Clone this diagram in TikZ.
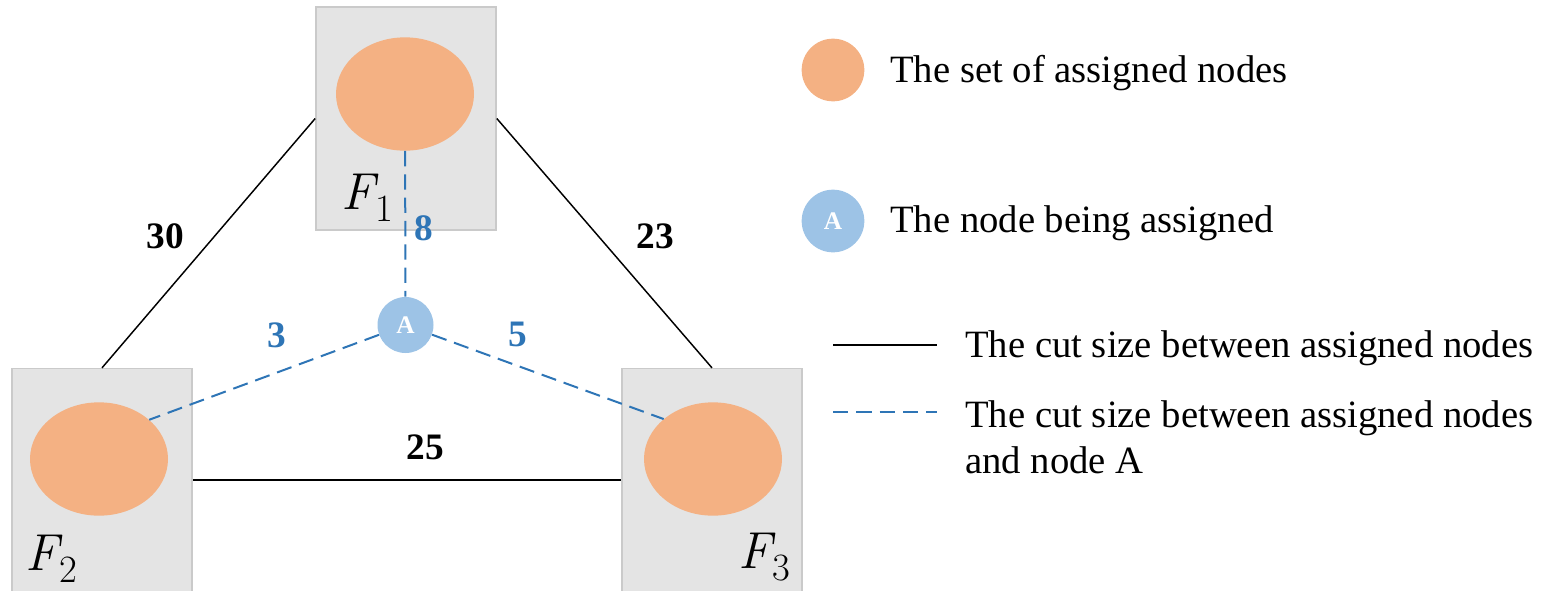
\documentclass[tikz,border=0pt]{standalone}
\usepackage{fontspec}
\setmainfont{Liberation Serif}
\newfontfamily\lmfont{Latin Modern Roman}
\usetikzlibrary{shapes.geometric}
\definecolor{setorange}{HTML}{F4B183}
\definecolor{nodeblue}{HTML}{9DC3E6}
\definecolor{cutblue}{HTML}{2E75B6}
\definecolor{boxgray}{HTML}{E4E4E4}
\definecolor{boxline}{HTML}{CACACA}
\newcommand\fset[1]{{\lmfont\itshape F}\kern0.5pt\raisebox{-9pt}{\fontsize{29}{30}\selectfont\lmfont #1}}
\begin{document}
\begin{tikzpicture}[x=0.75pt, y=-0.75pt,
  fbox/.style={draw=boxline, line width=1.2pt, fill=boxgray, minimum width=135pt, minimum height=167pt, inner sep=0pt},
  fset/.style={ellipse, fill=setorange, minimum width=103.5pt, minimum height=85pt, inner sep=0pt},
  anode/.style={circle, fill=nodeblue, text=white, font=\fontsize{19}{22}\selectfont\bfseries, minimum size=42pt, inner sep=0pt},
  flabel/.style={anchor=base west, inner sep=0pt, font=\fontsize{39}{46}\selectfont},
  cutlbl/.style={font=\fontsize{28}{34}\selectfont\bfseries, inner sep=0pt},
  legtext/.style={anchor=base west, inner sep=0pt, align=left, font=\fontsize{29}{34.5}\selectfont},
  cut/.style={black, line width=1.1pt},
  cutA/.style={cutblue, line width=1.5pt, dash pattern=on 11.5pt off 6pt}]
  \useasboundingbox (0,0) rectangle (1547,590);
  % sets and their boxes
  \node[fbox] (box1) at (406,118.5) {};
  \node[fbox] (box2) at (102,480) {};
  \node[fbox] (box3) at (712,480) {};
  \node[fset] (e1) at (405,94) {};
  \node[fset] (e2) at (99,459) {};
  \node[fset] (e3) at (713,459) {};
  \node[flabel] (f1) at (341,209) {\fset{1}};
  \node[flabel] (f2) at (25,570) {\fset{2}};
  \node[flabel] (f3) at (738,568) {\fset{3}};
  \node[anode] (A) at (405.5,325) {A};
  % cuts between sets
  \draw[cut] (box1.west) -- (box2.north);
  \draw[cut] (box1.east) -- (box3.north);
  \draw[cut] (box2.east) -- (box3.west);
  \node[cutlbl] (w12) at (165,236) {30};
  \node[cutlbl] (w13) at (655,236) {23};
  \node[cutlbl] (w23) at (425,447) {25};
  % cuts to node A
  \draw[cutA] (e1) -- (A);
  \draw[cutA] (A) -- (e2.38);
  \draw[cutA] (A) -- (e3.141);
  \node[cutlbl, text=cutblue] (a1) at (424,228) {8};
  \node[cutlbl, text=cutblue] (a2) at (277,335) {3};
  \node[cutlbl, text=cutblue] (a3) at (518,334) {5};
  % legend
  \node[fset, circle, minimum size=47pt] (lg1) at (833,70) {};
  \node[legtext] (lt1) at (890,82) {The set of assigned nodes};
  \node[anode, minimum size=47pt] (lg2) at (833,221) {A};
  \node[legtext] (lt2) at (890,232) {The node being assigned};
  \coordinate (l3a) at (833,345);
  \coordinate (l3b) at (937,345);
  \draw[cut] (l3a) -- (l3b);
  \node[legtext] (lt3) at (965,357) {The cut size between assigned nodes};
  \coordinate (l4a) at (833,412);
  \coordinate (l4b) at (937,412);
  \draw[cutA] (l4a) -- (l4b);
  \node[legtext] (lt4) at (965,473) {The cut size between assigned nodes\\and node A};
\end{tikzpicture}
\end{document}
